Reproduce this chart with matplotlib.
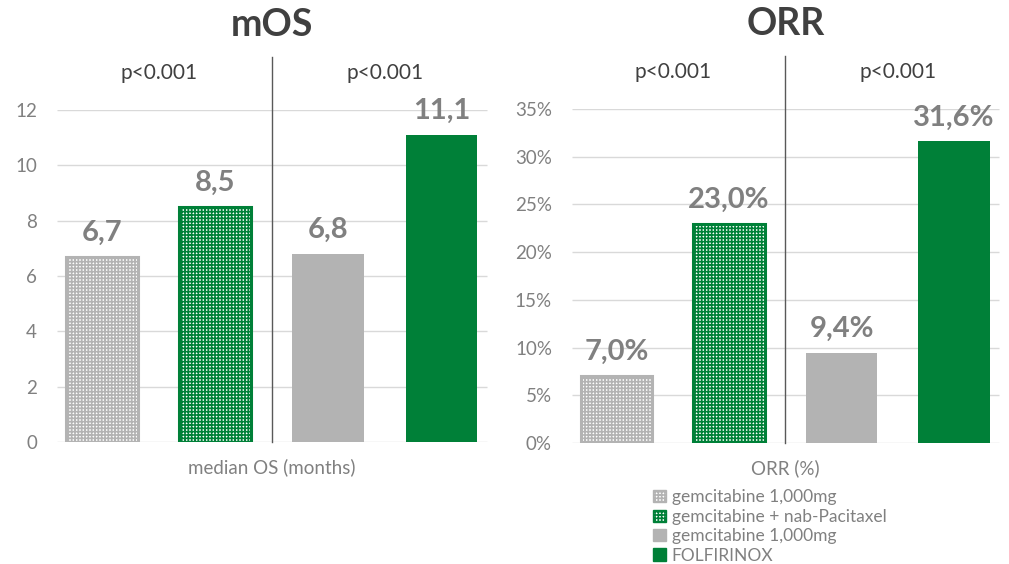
import matplotlib.pyplot as plt
from matplotlib.patches import Patch

plt.rcParams['font.family'] = ['Lato', 'DejaVu Sans']
plt.rcParams['hatch.linewidth'] = 1.2

# data
groups = ["gemcitabine 1,000mg", "gemcitabine + nab-Pacitaxel",
          "gemcitabine 1,000mg", "FOLFIRINOX"]
mos = [6.7, 8.5, 6.8, 11.1]
orr = [7.0, 23.0, 9.4, 31.6]
pvals = ["p<0.001", "p<0.001"]

gray = '#b3b3b3'
green = '#008038'
faces = ['white', 'white', gray, green]
edges = [gray, green, gray, green]
hatches = ['+++++', '+++++', None, None]
txt_gray = '#808080'

fig = plt.figure(figsize=(10.09, 5.64), dpi=100)
ax1 = fig.add_axes([0.045, 0.2163, 0.4486, 0.5887])
ax2 = fig.add_axes([0.5553, 0.2145, 0.446, 0.5922])


def panel(ax, vals, ymax, step, fmt, tickfmt, title, xlabel, pad):
    ticks = [step * i for i in range(int(round(ymax / step)) + 1)]
    ax.hlines(ticks, -0.4, 3.4, color='#d9d9d9', lw=1, zorder=0)
    for i, v in enumerate(vals):
        ax.bar(i, v, width=0.635, color=faces[i], edgecolor=edges[i],
               hatch=hatches[i], lw=2.2 if hatches[i] else 0, zorder=2)
        ax.text(i, v + pad, fmt(v), ha='center', va='bottom',
                fontsize=21, fontweight='bold', color=txt_gray)
    ax.set_xlim(-0.5, 3.5)
    ax.set_ylim(0, ymax)
    ax.set_yticks(ticks)
    ax.set_yticklabels([tickfmt(t) for t in ticks])
    ax.set_xticks([])
    for s in ax.spines.values():
        s.set_visible(False)
    ax.tick_params(axis='y', length=0, pad=6, labelsize=13.5, labelcolor=txt_gray)
    ax.plot([1.5, 1.5], [0, ymax * 1.16], color='#595959', lw=1, clip_on=False, zorder=3)
    ax.text(0.5, ymax * 1.112, pvals[0], ha='center', va='center', fontsize=15, color='#404040')
    ax.text(2.5, ymax * 1.112, pvals[1], ha='center', va='center', fontsize=15, color='#404040')
    ax.text(1.5, ymax * 1.255, title, ha='center', va='center', fontsize=27,
            fontweight='bold', color='#404040')
    ax.text(1.5, -ymax * 0.075, xlabel, ha='center', va='center', fontsize=13.5, color=txt_gray)


panel(ax1, mos, 12, 2, lambda v: f"{v:.1f}".replace('.', ','),
      lambda t: f"{t:g}", "mOS", "median OS (months)", 0.4)
panel(ax2, orr, 35, 5, lambda v: f"{v:.1f}%".replace('.', ','),
      lambda t: f"{t:g}%", "ORR", "ORR (%)", 1.15)

handles = [Patch(facecolor=faces[i], edgecolor=edges[i], hatch=hatches[i], lw=1)
           for i in range(4)]
leg = fig.legend(handles, groups, loc='upper left', bbox_to_anchor=(0.639, 0.148),
                 frameon=False, fontsize=12.5, handlelength=0.7, handleheight=0.7,
                 handletextpad=0.35, labelspacing=0.2, borderpad=0)
for t in leg.get_texts():
    t.set_color(txt_gray)

plt.savefig("out.png", dpi=100)
